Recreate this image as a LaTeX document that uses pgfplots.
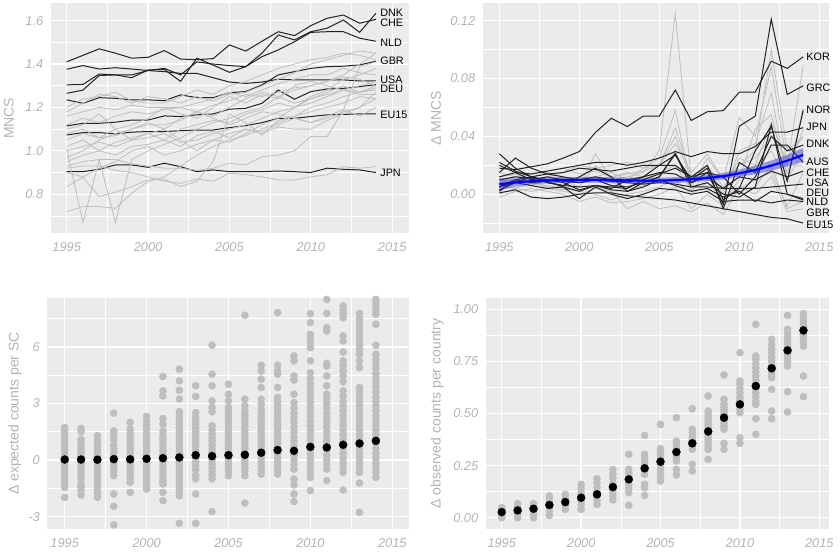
\documentclass[border=0pt]{standalone}
\usepackage{fontspec}
\setmainfont{Liberation Sans}
\usepackage{pgfplots}
\pgfplotsset{compat=1.18}
\definecolor{panelbg}{HTML}{EBEBEB}
\definecolor{tickgray}{HTML}{B3B3B3}
\definecolor{lgray}{HTML}{BEBEBE}
\definecolor{dline}{HTML}{222222}
\definecolor{band}{HTML}{3333CC}
\pgfplotsset{
 gg/.style={
  scale only axis, clip mode=individual,
  axis background/.style={fill=panelbg},
  axis line style={draw=none},
  xmajorgrids, ymajorgrids, xminorgrids, yminorgrids,
  major grid style={white, line width=1.3bp},
  minor grid style={white, line width=0.65bp},
  major tick length=0pt, minor tick length=0pt,
  tick style={draw=none},
  xtick={1995,2000,2005,2010,2015},
  minor xtick={1992.5,1997.5,2002.5,2007.5,2012.5},
  /pgf/number format/assume math mode=true,
  xticklabel style={/pgf/number format/1000 sep={}, yshift=-5.5bp},
  yticklabel style={xshift=-4bp},
  tick label style={font=\fontsize{12.8bp}{14bp}\selectfont\itshape, text=tickgray},
 },
 ylab/.style={every axis y label/.style={at={(rel axis cs:0,0.5)}, xshift=#1, rotate=90, anchor=center, font=\fontsize{14bp}{16bp}\selectfont, text=tickgray}},
 gl/.style={lgray, line width=0.8bp},
 bl/.style={dline, line width=1bp},
}
\tikzset{cl/.style={anchor=west, font=\fontsize{10.8bp}{12bp}\selectfont, text=black, inner sep=0pt}}
\begin{document}
\begin{tikzpicture}[x=1bp,y=1bp]
\useasboundingbox (0,0) rectangle (840,553);
%%%%%%%%%%%%%%%% Panel 1
\begin{axis}[gg, at={(50.7bp,319.7bp)}, anchor=south west, width=358.6bp, height=230bp,
  xmin=1994.02, xmax=2016.05, ymin=0.62, ymax=1.68,
  ytick={0.8,1.0,1.2,1.4,1.6}, minor ytick={0.7,0.9,1.1,1.3,1.5},
  yticklabel style={/pgf/number format/.cd, fixed, fixed zerofill, precision=1},
  ylabel={MNCS}, ylab=-42bp]
% labelled (dark) lines
\addplot[bl] coordinates {(1995,1.41)(1996,1.44)(1997,1.47)(1998,1.45)(1999,1.427)(2000,1.431)(2001,1.462)(2002,1.423)(2003,1.42)(2004,1.425)(2005,1.488)(2006,1.46)(2007,1.505)(2008,1.549)(2009,1.531)(2010,1.577)(2011,1.611)(2012,1.626)(2013,1.588)(2014,1.606)};
\addplot[bl] coordinates {(1995,1.265)(1996,1.28)(1997,1.347)(1998,1.35)(1999,1.337)(2000,1.373)(2001,1.375)(2002,1.32)(2003,1.427)(2004,1.395)(2005,1.362)(2006,1.388)(2007,1.45)(2008,1.534)(2009,1.511)(2010,1.549)(2011,1.565)(2012,1.603)(2013,1.546)(2014,1.634)};
\addplot[bl] coordinates {(1995,1.304)(1996,1.306)(1997,1.354)(1998,1.35)(1999,1.35)(2000,1.37)(2001,1.38)(2002,1.35)(2003,1.41)(2004,1.40)(2005,1.393)(2006,1.388)(2007,1.434)(2008,1.465)(2009,1.503)(2010,1.546)(2011,1.549)(2012,1.549)(2013,1.519)(2014,1.505)};
\addplot[bl] coordinates {(1995,1.235)(1996,1.219)(1997,1.245)(1998,1.242)(1999,1.235)(2000,1.235)(2001,1.231)(2002,1.258)(2003,1.245)(2004,1.245)(2005,1.268)(2006,1.273)(2007,1.304)(2008,1.35)(2009,1.365)(2010,1.38)(2011,1.388)(2012,1.39)(2013,1.396)(2014,1.413)};
\addplot[bl] coordinates {(1995,1.376)(1996,1.393)(1997,1.377)(1998,1.383)(1999,1.377)(2000,1.37)(2001,1.365)(2002,1.357)(2003,1.357)(2004,1.337)(2005,1.317)(2006,1.311)(2007,1.317)(2008,1.33)(2009,1.327)(2010,1.327)(2011,1.327)(2012,1.327)(2013,1.322)(2014,1.322)};
\addplot[bl] coordinates {(1995,1.115)(1996,1.127)(1997,1.127)(1998,1.132)(1999,1.142)(2000,1.142)(2001,1.161)(2002,1.158)(2003,1.166)(2004,1.17)(2005,1.192)(2006,1.196)(2007,1.219)(2008,1.28)(2009,1.238)(2010,1.273)(2011,1.285)(2012,1.288)(2013,1.296)(2014,1.305)};
\addplot[bl] coordinates {(1995,1.073)(1996,1.084)(1997,1.084)(1998,1.078)(1999,1.086)(2000,1.089)(2001,1.089)(2002,1.093)(2003,1.096)(2004,1.096)(2005,1.107)(2006,1.116)(2007,1.13)(2008,1.15)(2009,1.15)(2010,1.158)(2011,1.166)(2012,1.168)(2013,1.17)(2014,1.17)};
\addplot[bl] coordinates {(1995,0.904)(1996,0.904)(1997,0.915)(1998,0.935)(1999,0.935)(2000,0.924)(2001,0.943)(2002,0.927)(2003,0.904)(2004,0.912)(2005,0.904)(2006,0.904)(2007,0.904)(2008,0.907)(2009,0.904)(2010,0.9)(2011,0.92)(2012,0.915)(2013,0.912)(2014,0.9)};
% grey lines
\addplot[gl] coordinates {(1995,0.72)(1996,0.743)(1997,0.743)(1998,0.735)(1999,0.805)(2000,0.858)(2001,0.88)(2002,0.93)(2003,0.98)(2004,1.02)(2005,1.05)(2006,1.07)(2007,1.1)(2008,1.13)(2009,1.16)(2010,1.2)(2011,1.22)(2012,1.25)(2013,1.27)(2014,1.3)};
\addplot[gl] coordinates {(1995,1.01)(1996,0.67)(1997,0.96)(1998,0.67)(1999,0.96)(2000,1.0)(2001,1.03)(2002,1.06)(2003,1.1)(2004,1.13)(2005,1.15)(2006,1.18)(2007,1.2)(2008,1.25)(2009,1.28)(2010,1.3)(2011,1.32)(2012,1.35)(2013,1.4)(2014,1.45)};
\addplot[gl] coordinates {(1995,0.835)(1996,0.878)(1997,0.79)(1998,0.81)(1999,0.835)(2000,0.866)(2001,0.87)(2002,0.835)(2003,0.86)(2004,0.95)(2005,1.17)(2006,1.13)(2007,1.073)(2008,1.14)(2009,1.16)(2010,1.18)(2011,1.2)(2012,1.22)(2013,1.25)(2014,1.24)};
\addplot[gl] coordinates {(1995,0.93)(1996,0.95)(1997,0.96)(1998,0.96)(1999,0.94)(2000,0.93)(2001,0.92)(2002,0.92)(2003,0.91)(2004,0.92)(2005,0.943)(2006,0.935)(2007,0.973)(2008,0.98)(2009,1.0)(2010,1.066)(2011,1.066)(2012,1.188)(2013,1.388)(2014,1.41)};
\addplot[gl] coordinates {(1995,0.92)(1996,0.93)(1997,0.93)(1998,0.91)(1999,0.9)(2000,0.88)(2001,0.86)(2002,0.85)(2003,0.87)(2004,0.86)(2005,0.897)(2006,0.89)(2007,0.88)(2008,0.866)(2009,0.866)(2010,0.88)(2011,0.89)(2012,0.927)(2013,0.92)(2014,0.927)};
\addplot[gl] coordinates {(1995,1.02)(1996,1.05)(1997,1.0)(1998,1.04)(1999,1.06)(2000,1.08)(2001,1.1)(2002,1.05)(2003,1.0)(2004,1.05)(2005,1.04)(2006,1.08)(2007,1.12)(2008,1.15)(2009,1.2)(2010,1.25)(2011,1.28)(2012,1.33)(2013,1.35)(2014,1.38)};
\addplot[gl] coordinates {(1995,1.18)(1996,1.22)(1997,1.26)(1998,1.25)(1999,1.22)(2000,1.25)(2001,1.24)(2002,1.22)(2003,1.25)(2004,1.23)(2005,1.26)(2006,1.27)(2007,1.3)(2008,1.33)(2009,1.36)(2010,1.4)(2011,1.42)(2012,1.44)(2013,1.46)(2014,1.45)};
\addplot[gl] coordinates {(1995,1.2)(1996,1.24)(1997,1.25)(1998,1.27)(1999,1.23)(2000,1.22)(2001,1.22)(2002,1.25)(2003,1.28)(2004,1.26)(2005,1.3)(2006,1.32)(2007,1.35)(2008,1.38)(2009,1.4)(2010,1.42)(2011,1.43)(2012,1.45)(2013,1.44)(2014,1.42)};
\addplot[gl] coordinates {(1995,1.16)(1996,1.18)(1997,1.2)(1998,1.19)(1999,1.21)(2000,1.2)(2001,1.2)(2002,1.2)(2003,1.22)(2004,1.24)(2005,1.27)(2006,1.25)(2007,1.28)(2008,1.31)(2009,1.33)(2010,1.35)(2011,1.35)(2012,1.38)(2013,1.36)(2014,1.35)};
\addplot[gl] coordinates {(1995,1.1)(1996,1.12)(1997,1.17)(1998,1.1)(1999,1.12)(2000,1.15)(2001,1.2)(2002,1.17)(2003,1.15)(2004,1.2)(2005,1.25)(2006,1.22)(2007,1.26)(2008,1.24)(2009,1.3)(2010,1.32)(2011,1.3)(2012,1.28)(2013,1.26)(2014,1.26)};
\addplot[gl] coordinates {(1995,1.05)(1996,1.08)(1997,1.06)(1998,1.07)(1999,1.1)(2000,1.12)(2001,1.12)(2002,1.14)(2003,1.18)(2004,1.16)(2005,1.2)(2006,1.24)(2007,1.27)(2008,1.25)(2009,1.22)(2010,1.24)(2011,1.26)(2012,1.28)(2013,1.27)(2014,1.29)};
\addplot[gl] coordinates {(1995,0.97)(1996,1.0)(1997,1.05)(1998,1.08)(1999,1.1)(2000,1.13)(2001,1.1)(2002,1.15)(2003,1.18)(2004,1.15)(2005,1.12)(2006,1.15)(2007,1.18)(2008,1.17)(2009,1.15)(2010,1.13)(2011,1.15)(2012,1.18)(2013,1.2)(2014,1.24)};
\addplot[gl] coordinates {(1995,1.08)(1996,1.1)(1997,1.06)(1998,1.1)(1999,1.05)(2000,1.06)(2001,1.08)(2002,1.04)(2003,1.05)(2004,1.08)(2005,1.1)(2006,1.12)(2007,1.15)(2008,1.18)(2009,1.2)(2010,1.22)(2011,1.25)(2012,1.28)(2013,1.3)(2014,1.32)};
\addplot[gl] coordinates {(1995,1.0)(1996,1.02)(1997,1.04)(1998,1.02)(1999,1.05)(2000,1.08)(2001,1.05)(2002,1.1)(2003,1.12)(2004,1.14)(2005,1.13)(2006,1.17)(2007,1.19)(2008,1.22)(2009,1.2)(2010,1.24)(2011,1.27)(2012,1.3)(2013,1.27)(2014,1.28)};
\addplot[gl] coordinates {(1995,0.95)(1996,0.98)(1997,1.0)(1998,0.98)(1999,1.02)(2000,1.03)(2001,1.05)(2002,1.02)(2003,1.07)(2004,1.09)(2005,1.06)(2006,1.1)(2007,1.09)(2008,1.12)(2009,1.15)(2010,1.13)(2011,1.16)(2012,1.19)(2013,1.16)(2014,1.2)};
\addplot[gl] coordinates {(1995,1.12)(1996,1.15)(1997,1.13)(1998,1.16)(1999,1.18)(2000,1.17)(2001,1.19)(2002,1.2)(2003,1.18)(2004,1.21)(2005,1.23)(2006,1.26)(2007,1.25)(2008,1.27)(2009,1.29)(2010,1.3)(2011,1.32)(2012,1.34)(2013,1.33)(2014,1.3)};
\addplot[gl] coordinates {(1995,0.9)(1996,0.88)(1997,0.92)(1998,0.95)(1999,1.0)(2000,1.02)(2001,0.98)(2002,1.0)(2003,1.03)(2004,1.05)(2005,1.08)(2006,1.1)(2007,1.08)(2008,1.11)(2009,1.1)(2010,1.1)(2011,1.14)(2012,1.17)(2013,1.2)(2014,1.27)};
\node[cl] at (axis cs:2014.26,1.636) {DNK};
\node[cl] at (axis cs:2014.26,1.592) {CHE};
\node[cl] at (axis cs:2014.26,1.50) {NLD};
\node[cl] at (axis cs:2014.26,1.414) {GBR};
\node[cl] at (axis cs:2014.26,1.327) {USA};
\node[cl] at (axis cs:2014.26,1.284) {DEU};
\node[cl] at (axis cs:2014.26,1.165) {EU15};
\node[cl] at (axis cs:2014.26,0.898) {JPN};
\end{axis}
%%%%%%%%%%%%%%%% Panel 2
\begin{axis}[gg, at={(482.7bp,319.7bp)}, anchor=south west, width=346.6bp, height=230bp,
  xmin=1993.96, xmax=2015.63, ymin=-0.027, ymax=0.132,
  ytick={0,0.04,0.08,0.12}, minor ytick={-0.02,0.02,0.06,0.10},
  yticklabel style={/pgf/number format/.cd, fixed, fixed zerofill, precision=2},
  ylabel={Δ MNCS}, ylab=-46.7bp]
% grey lines
\addplot[gl] coordinates {(1995,0.005)(1996,0.008)(1997,0.01)(1998,0.012)(1999,0.01)(2000,0.005)(2001,0.028)(2002,0.01)(2003,0.012)(2004,0.015)(2005,0.03)(2006,0.125)(2007,0.01)(2008,0.02)(2009,0.005)(2010,0.02)(2011,0.03)(2012,0.1)(2013,0.03)(2014,0.04)};
\addplot[gl] coordinates {(1995,0.008)(1996,0.01)(1997,0.012)(1998,0.015)(1999,0.012)(2000,0.01)(2001,0.012)(2002,0.015)(2003,0.01)(2004,0.018)(2005,0.025)(2006,0.058)(2007,0.005)(2008,0.025)(2009,0.01)(2010,0.053)(2011,0.04)(2012,0.088)(2013,0.02)(2014,0.089)};
\addplot[gl] coordinates {(1995,0.01)(1996,0.012)(1997,0.008)(1998,0.005)(1999,0.003)(2000,0.005)(2001,0.02)(2002,0.012)(2003,0.015)(2004,0.012)(2005,0.02)(2006,0.046)(2007,0.012)(2008,0.018)(2009,-0.005)(2010,0.01)(2011,0.045)(2012,0.055)(2013,0.015)(2014,0.045)};
\addplot[gl] coordinates {(1995,0.003)(1996,0.005)(1997,0.006)(1998,0.004)(1999,0.002)(2000,0.0)(2001,0.004)(2002,0.002)(2003,-0.01)(2004,-0.005)(2005,-0.01)(2006,-0.008)(2007,-0.012)(2008,-0.006)(2009,-0.014)(2010,0.005)(2011,0.0)(2012,0.012)(2013,-0.012)(2014,-0.01)};
\addplot[gl] coordinates {(1995,0.012)(1996,0.014)(1997,0.01)(1998,0.012)(1999,0.015)(2000,0.02)(2001,0.018)(2002,0.02)(2003,0.022)(2004,0.018)(2005,0.02)(2006,0.035)(2007,0.015)(2008,0.028)(2009,0.01)(2010,0.02)(2011,0.025)(2012,0.04)(2013,0.025)(2014,0.04)};
\addplot[gl] coordinates {(1995,0.0)(1996,0.004)(1997,0.008)(1998,0.006)(1999,0.004)(2000,0.002)(2001,0.0)(2002,-0.004)(2003,0.0)(2004,0.002)(2005,0.005)(2006,0.01)(2007,0.0)(2008,0.008)(2009,-0.002)(2010,0.004)(2011,0.01)(2012,0.015)(2013,-0.008)(2014,0.015)};
\addplot[gl] coordinates {(1995,0.006)(1996,0.004)(1997,0.002)(1998,0.004)(1999,0.006)(2000,0.01)(2001,0.012)(2002,0.008)(2003,0.005)(2004,0.01)(2005,0.015)(2006,0.02)(2007,0.003)(2008,0.01)(2009,0.005)(2010,0.012)(2011,0.02)(2012,0.03)(2013,0.01)(2014,0.03)};
\addplot[gl] coordinates {(1995,0.015)(1996,0.012)(1997,0.014)(1998,0.016)(1999,0.018)(2000,0.014)(2001,0.016)(2002,0.012)(2003,0.014)(2004,0.016)(2005,0.02)(2006,0.04)(2007,0.01)(2008,0.02)(2009,0.0)(2010,0.03)(2011,0.035)(2012,0.07)(2013,0.01)(2014,0.06)};
\addplot[gl] coordinates {(1995,-0.002)(1996,0.002)(1997,0.004)(1998,0.002)(1999,0.0)(2000,-0.005)(2001,-0.002)(2002,-0.006)(2003,-0.005)(2004,-0.003)(2005,0.0)(2006,0.005)(2007,-0.01)(2008,0.0)(2009,-0.008)(2010,0.002)(2011,0.005)(2012,0.02)(2013,-0.01)(2014,-0.005)};
\addplot[gl] coordinates {(1995,0.01)(1996,0.008)(1997,0.006)(1998,0.01)(1999,0.012)(2000,0.008)(2001,0.01)(2002,0.006)(2003,0.002)(2004,0.006)(2005,0.012)(2006,0.03)(2007,0.002)(2008,0.015)(2009,0.003)(2010,0.025)(2011,0.02)(2012,0.05)(2013,0.02)(2014,0.02)};
% dark lines
\addplot[bl] coordinates {(1995,0.018)(1996,0.017)(1997,0.019)(1998,0.021)(1999,0.025)(2000,0.0295)(2001,0.0426)(2002,0.0525)(2003,0.0468)(2004,0.054)(2005,0.054)(2006,0.072)(2007,0.051)(2008,0.057)(2009,0.0578)(2010,0.0705)(2011,0.0705)(2012,0.092)(2013,0.087)(2014,0.095)};
\addplot[bl] coordinates {(1995,0.002)(1996,0.01)(1997,0.012)(1998,0.008)(1999,0.006)(2000,0.012)(2001,0.018)(2002,0.012)(2003,0.002)(2004,0.008)(2005,0.012)(2006,0.028)(2007,0.008)(2008,0.015)(2009,-0.007)(2010,0.047)(2011,0.054)(2012,0.121)(2013,0.069)(2014,0.075)};
\addplot[bl] coordinates {(1995,0.022)(1996,0.016)(1997,0.012)(1998,0.01)(1999,0.008)(2000,0.003)(2001,0.006)(2002,0.005)(2003,0.004)(2004,0.01)(2005,0.014)(2006,0.018)(2007,0.012)(2008,0.02)(2009,-0.004)(2010,0.004)(2011,0.03)(2012,0.047)(2013,0.009)(2014,0.058)};
\addplot[bl] coordinates {(1995,0.012)(1996,0.015)(1997,0.014)(1998,0.016)(1999,0.018)(2000,0.02)(2001,0.022)(2002,0.022)(2003,0.02)(2004,0.022)(2005,0.025)(2006,0.0295)(2007,0.026)(2008,0.0295)(2009,0.028)(2010,0.028)(2011,0.033)(2012,0.043)(2013,0.043)(2014,0.046)};
\addplot[bl] coordinates {(1995,0.028)(1996,0.018)(1997,0.012)(1998,0.008)(1999,0.006)(2000,0.005)(2001,0.006)(2002,0.004)(2003,0.01)(2004,0.012)(2005,0.02)(2006,0.027)(2007,0.01)(2008,0.018)(2009,-0.01)(2010,0.022)(2011,0.015)(2012,0.04)(2013,0.03)(2014,0.034)};
\addplot[bl] coordinates {(1995,0.005)(1996,0.008)(1997,0.012)(1998,0.014)(1999,0.015)(2000,0.018)(2001,0.017)(2002,0.016)(2003,0.018)(2004,0.02)(2005,0.02)(2006,0.02)(2007,0.012)(2008,0.015)(2009,0.012)(2010,0.0)(2011,0.012)(2012,0.034)(2013,0.034)(2014,0.022)};
\addplot[bl] coordinates {(1995,0.015)(1996,0.025)(1997,0.018)(1998,0.014)(1999,0.012)(2000,0.01)(2001,0.012)(2002,0.01)(2003,0.008)(2004,0.012)(2005,0.015)(2006,0.014)(2007,0.008)(2008,0.012)(2009,0.004)(2010,0.012)(2011,0.01)(2012,0.016)(2013,0.012)(2014,0.016)};
\addplot[bl] coordinates {(1995,0.01)(1996,0.012)(1997,0.011)(1998,0.01)(1999,0.009)(2000,0.008)(2001,0.01)(2002,0.009)(2003,0.008)(2004,0.007)(2005,0.008)(2006,0.007)(2007,0.005)(2008,0.005)(2009,0.004)(2010,0.004)(2011,0.004)(2012,0.005)(2013,0.006)(2014,0.007)};
\addplot[bl] coordinates {(1995,0.003)(1996,0.008)(1997,0.006)(1998,0.004)(1999,0.005)(2000,0.002)(2001,0.006)(2002,0.003)(2003,0.002)(2004,0.005)(2005,0.01)(2006,0.006)(2007,0.002)(2008,0.004)(2009,-0.002)(2010,0.002)(2011,-0.005)(2012,0.002)(2013,0.0)(2014,-0.003)};
\addplot[bl] coordinates {(1995,0.02)(1996,0.015)(1997,0.01)(1998,0.012)(1999,0.01)(2000,0.008)(2001,0.01)(2002,0.006)(2003,0.005)(2004,0.008)(2005,0.012)(2006,0.028)(2007,0.005)(2008,0.008)(2009,0.0)(2010,-0.002)(2011,0.005)(2012,0.048)(2013,0.0)(2014,-0.004)};
\addplot[bl] coordinates {(1995,0.005)(1996,0.01)(1997,0.008)(1998,0.009)(1999,0.005)(2000,-0.003)(2001,0.005)(2002,0.0)(2003,-0.003)(2004,0.0)(2005,0.004)(2006,0.003)(2007,0.0)(2008,0.002)(2009,-0.005)(2010,-0.004)(2011,-0.004)(2012,-0.006)(2013,-0.004)(2014,-0.005)};
\addplot[bl] coordinates {(1995,0.001)(1996,0.003)(1997,-0.002)(1998,-0.003)(1999,-0.002)(2000,0.0)(2001,0.001)(2002,0.001)(2003,-0.001)(2004,-0.002)(2005,-0.003)(2006,-0.004)(2007,-0.006)(2008,-0.008)(2009,-0.01)(2010,-0.012)(2011,-0.014)(2012,-0.016)(2013,-0.017)(2014,-0.02)};
% smooth with band
\addplot[fill=band, fill opacity=0.45, draw=none] coordinates {(1995,0.0109)(1996,0.011)(1997,0.0112)(1998,0.0115)(1999,0.0118)(2000,0.0119)(2001,0.012)(2002,0.0118)(2003,0.0115)(2004,0.0114)(2005,0.0114)(2006,0.0118)(2007,0.0124)(2008,0.0132)(2009,0.0147)(2010,0.017)(2011,0.0198)(2012,0.0233)(2013,0.0272)(2014,0.032)(2014,0.0224)(2013,0.0192)(2012,0.0163)(2011,0.0138)(2010,0.012)(2009,0.0103)(2008,0.0092)(2007,0.0084)(2006,0.0078)(2005,0.0074)(2004,0.0074)(2003,0.0075)(2002,0.0078)(2001,0.008)(2000,0.0079)(1999,0.0078)(1998,0.0075)(1997,0.0068)(1996,0.0054)(1995,0.0029)};
\addplot[blue, line width=2.2bp, smooth] coordinates {(1995,0.0069)(1996,0.0082)(1997,0.009)(1998,0.0095)(1999,0.0098)(2000,0.0099)(2001,0.01)(2002,0.0098)(2003,0.0095)(2004,0.0094)(2005,0.0094)(2006,0.0098)(2007,0.0104)(2008,0.0112)(2009,0.0125)(2010,0.0145)(2011,0.0168)(2012,0.0198)(2013,0.0232)(2014,0.0272)};
\node[cl] at (axis cs:2014.19,0.0947) {KOR};
\node[cl] at (axis cs:2014.19,0.0739) {GRC};
\node[cl] at (axis cs:2014.19,0.0583) {NOR};
\node[cl] at (axis cs:2014.19,0.0468) {JPN};
\node[cl] at (axis cs:2014.19,0.0348) {DNK};
\node[cl] at (axis cs:2014.19,0.0221) {AUS};
\node[cl] at (axis cs:2014.19,0.0148) {CHE};
\node[cl] at (axis cs:2014.19,0.0077) {USA};
\node[cl] at (axis cs:2014.19,0.0013) {DEU};
\node[cl] at (axis cs:2014.19,-0.0055) {NLD};
\node[cl] at (axis cs:2014.19,-0.0126) {GBR};
\node[cl] at (axis cs:2014.19,-0.021) {EU15};
\end{axis}
%%%%%%%%%%%%%%%% Panel 3
\begin{axis}[gg, at={(47.3bp,23.7bp)}, anchor=south west, width=362bp, height=231.6bp,
  xmin=1993.94, xmax=2016.04, ymin=-3.67, ymax=8.61,
  ytick={-3,0,3,6}, minor ytick={-1.5,1.5,4.5,7.5},
  ylabel={Δ expected counts per SC}, ylab=-32.3bp]
\addplot[only marks, mark=*, mark size=3.6bp, lgray] coordinates {
(1995,-1.98)(1995,-1.45)(1995,-1.25)(1995,-1.05)(1995,-0.85)(1995,-0.65)(1995,-0.45)(1995,-0.25)(1995,-0.05)(1995,0.15)(1995,0.35)(1995,0.55)(1995,0.75)(1995,0.95)(1995,1.15)(1995,1.35)(1995,1.55)(1995,1.73)
(1996,-1.85)(1996,-1.6)(1996,-1.4)(1996,-1.27)(1996,-1.0)(1996,-0.8)(1996,-0.6)(1996,-0.4)(1996,-0.2)(1996,0)(1996,0.2)(1996,0.4)(1996,0.6)(1996,0.8)(1996,1.0)(1996,1.1)(1996,1.5)(1996,1.68)
(1997,-1.97)(1997,-1.75)(1997,-1.55)(1997,-1.35)(1997,-1.15)(1997,-0.95)(1997,-0.75)(1997,-0.55)(1997,-0.35)(1997,-0.15)(1997,0.05)(1997,0.25)(1997,0.45)(1997,0.65)(1997,0.85)(1997,1.05)(1997,1.29)
(1998,-3.44)(1998,-2.45)(1998,-1.8)(1998,-0.83)(1998,-0.6)(1998,-0.4)(1998,-0.2)(1998,0)(1998,0.2)(1998,0.4)(1998,0.6)(1998,0.8)(1998,1.1)(1998,1.3)(1998,1.55)(1998,2.49)
(1999,-1.71)(1999,-1.18)(1999,-1.0)(1999,-0.8)(1999,-0.6)(1999,-0.4)(1999,-0.2)(1999,0)(1999,0.2)(1999,0.4)(1999,0.6)(1999,0.8)(1999,1.0)(1999,1.2)(1999,1.4)(1999,1.64)(1999,2.0)
(2000,-1.54)(2000,-1.35)(2000,-1.15)(2000,-0.95)(2000,-0.75)(2000,-0.55)(2000,-0.35)(2000,-0.15)(2000,0.05)(2000,0.25)(2000,0.45)(2000,0.65)(2000,0.85)(2000,1.05)(2000,1.25)(2000,1.45)(2000,1.65)(2000,1.85)(2000,2.05)(2000,2.31)
(2001,-2.15)(2001,-1.71)(2001,-1.27)(2001,-1.1)(2001,-0.9)(2001,-0.7)(2001,-0.5)(2001,-0.3)(2001,-0.1)(2001,0.1)(2001,0.3)(2001,0.5)(2001,0.7)(2001,0.9)(2001,1.1)(2001,1.3)(2001,1.55)(2001,1.9)(2001,2.2)(2001,3.4)(2001,3.67)(2001,4.43)
(2002,-3.35)(2002,-1.89)(2002,-1.7)(2002,-1.5)(2002,-1.3)(2002,-1.1)(2002,-0.9)(2002,-0.7)(2002,-0.5)(2002,-0.3)(2002,-0.1)(2002,0.1)(2002,0.3)(2002,0.5)(2002,0.7)(2002,0.9)(2002,1.1)(2002,1.3)(2002,1.5)(2002,1.7)(2002,1.9)(2002,2.1)(2002,2.3)(2002,2.56)(2002,3.23)(2002,3.7)(2002,4.2)(2002,4.82)
(2003,-3.35)(2003,-1.8)(2003,-1.0)(2003,-0.8)(2003,-0.5)(2003,-0.3)(2003,-0.1)(2003,0.1)(2003,0.3)(2003,0.5)(2003,0.7)(2003,0.9)(2003,1.1)(2003,1.3)(2003,1.5)(2003,1.7)(2003,1.9)(2003,2.1)(2003,2.3)(2003,2.52)(2003,3.37)(2003,3.94)
(2004,-2.73)(2004,-1.0)(2004,-0.8)(2004,-0.6)(2004,-0.4)(2004,-0.2)(2004,0)(2004,0.2)(2004,0.4)(2004,0.6)(2004,0.8)(2004,1.0)(2004,1.2)(2004,1.4)(2004,1.6)(2004,1.82)(2004,2.56)(2004,2.79)(2004,3.14)(2004,3.94)(2004,4.55)(2004,6.09)
(2005,-0.83)(2005,-0.6)(2005,-0.4)(2005,-0.2)(2005,0)(2005,0.2)(2005,0.4)(2005,0.6)(2005,0.8)(2005,1.0)(2005,1.2)(2005,1.4)(2005,1.6)(2005,1.8)(2005,2.0)(2005,2.2)(2005,2.4)(2005,2.6)(2005,2.79)(2005,3.14)(2005,3.49)(2005,4.02)
(2006,-2.28)(2006,-0.83)(2006,-0.6)(2006,-0.4)(2006,-0.2)(2006,0)(2006,0.2)(2006,0.4)(2006,0.6)(2006,0.8)(2006,1.0)(2006,1.2)(2006,1.4)(2006,1.6)(2006,1.8)(2006,2.0)(2006,2.2)(2006,2.4)(2006,2.6)(2006,2.88)(2006,3.23)(2006,7.68)
(2007,-0.74)(2007,-0.5)(2007,-0.3)(2007,-0.1)(2007,0.1)(2007,0.3)(2007,0.5)(2007,0.7)(2007,0.9)(2007,1.1)(2007,1.3)(2007,1.5)(2007,1.7)(2007,1.9)(2007,2.1)(2007,2.3)(2007,2.5)(2007,2.7)(2007,2.95)(2007,3.23)(2007,3.85)(2007,4.29)(2007,4.73)(2007,5.03)
(2008,-0.74)(2008,-0.5)(2008,-0.3)(2008,-0.1)(2008,0.1)(2008,0.3)(2008,0.5)(2008,0.7)(2008,0.9)(2008,1.1)(2008,1.3)(2008,1.5)(2008,1.7)(2008,1.9)(2008,2.1)(2008,2.3)(2008,2.5)(2008,2.7)(2008,2.9)(2008,3.1)(2008,3.32)(2008,3.85)(2008,4.55)(2008,4.73)(2008,5.03)(2008,7.82)
(2009,-2.2)(2009,-1.8)(2009,-1.32)(2009,-1.0)(2009,-0.48)(2009,-0.25)(2009,0)(2009,0.25)(2009,0.5)(2009,0.75)(2009,1.0)(2009,1.25)(2009,1.5)(2009,1.75)(2009,2.0)(2009,2.25)(2009,2.5)(2009,2.75)(2009,3.05)(2009,3.49)(2009,4.25)(2009,4.46)(2009,5.26)(2009,5.52)
(2010,-1.62)(2010,-0.92)(2010,-0.7)(2010,-0.45)(2010,-0.2)(2010,0.05)(2010,0.3)(2010,0.55)(2010,0.8)(2010,1.05)(2010,1.3)(2010,1.55)(2010,1.8)(2010,2.05)(2010,2.3)(2010,2.55)(2010,2.8)(2010,3.05)(2010,3.3)(2010,3.55)(2010,3.8)(2010,4.05)(2010,4.35)(2010,4.64)(2010,5.26)(2010,5.96)(2010,6.2)(2010,6.45)(2010,6.67)(2010,7.29)(2010,7.76)
(2011,-1.09)(2011,-0.48)(2011,-0.25)(2011,0)(2011,0.25)(2011,0.5)(2011,0.75)(2011,1.0)(2011,1.25)(2011,1.5)(2011,1.75)(2011,2.0)(2011,2.25)(2011,2.5)(2011,2.75)(2011,3.0)(2011,3.25)(2011,3.49)(2011,3.94)(2011,4.46)(2011,4.99)(2011,5.13)(2011,6.85)(2011,7.02)(2011,7.78)(2011,8.52)
(2012,-1.59)(2012,-0.65)(2012,-0.4)(2012,-0.15)(2012,0.1)(2012,0.35)(2012,0.6)(2012,0.85)(2012,1.1)(2012,1.35)(2012,1.6)(2012,1.85)(2012,2.1)(2012,2.35)(2012,2.6)(2012,2.85)(2012,3.1)(2012,3.4)(2012,3.67)(2012,4.15)(2012,4.46)(2012,4.73)(2012,4.99)(2012,5.26)(2012,5.73)(2012,6.32)(2012,6.58)(2012,7.55)(2012,7.75)(2012,7.95)(2012,8.17)
(2013,-2.77)(2013,-1.22)(2013,-0.65)(2013,-0.4)(2013,-0.15)(2013,0.1)(2013,0.35)(2013,0.6)(2013,0.85)(2013,1.1)(2013,1.35)(2013,1.6)(2013,1.85)(2013,2.1)(2013,2.35)(2013,2.6)(2013,2.85)(2013,3.1)(2013,3.35)(2013,3.6)(2013,3.85)(2013,4.9)(2013,5.26)(2013,5.61)(2013,5.85)(2013,6.1)(2013,6.3)(2013,6.55)(2013,6.76)(2013,7.02)(2013,7.25)(2013,7.5)(2013,7.78)
(2014,-0.92)(2014,-0.65)(2014,-0.4)(2014,-0.15)(2014,0.1)(2014,0.35)(2014,0.6)(2014,0.85)(2014,1.1)(2014,1.35)(2014,1.6)(2014,1.85)(2014,2.1)(2014,2.35)(2014,2.6)(2014,2.85)(2014,3.1)(2014,3.35)(2014,3.6)(2014,3.85)(2014,4.1)(2014,4.35)(2014,4.6)(2014,4.85)(2014,5.1)(2014,5.35)(2014,5.61)(2014,6.09)(2014,7.2)(2014,7.73)(2014,7.95)(2014,8.15)(2014,8.35)(2014,8.52)(2014,8.7)
};
\addplot[only marks, mark=*, mark size=4bp, black] coordinates {(1995,0.03)(1996,0.03)(1997,0.02)(1998,0.05)(1999,0.04)(2000,0.07)(2001,0.1)(2002,0.14)(2003,0.26)(2004,0.21)(2005,0.26)(2006,0.28)(2007,0.39)(2008,0.53)(2009,0.49)(2010,0.7)(2011,0.67)(2012,0.81)(2013,0.88)(2014,1.02)};
\end{axis}
%%%%%%%%%%%%%%%% Panel 4
\begin{axis}[gg, at={(485.7bp,23.7bp)}, anchor=south west, width=343.6bp, height=231.6bp,
  xmin=1993.99, xmax=2015.63, ymin=-0.0557, ymax=1.056,
  ytick={0,0.25,0.5,0.75,1}, minor ytick={0.125,0.375,0.625,0.875},
  yticklabel style={/pgf/number format/.cd, fixed, fixed zerofill, precision=2},
  ylabel={Δ observed counts per country}, ylab=-48.7bp]
\addplot[only marks, mark=*, mark size=3.6bp, lgray] coordinates {
(1995,0.0)(1995,0.012)(1995,0.024)(1995,0.036)(1995,0.048)
(1996,0.0)(1996,0.017)(1996,0.034)(1996,0.05)(1996,0.067)
(1997,0.0)(1997,0.017)(1997,0.034)(1997,0.05)(1997,0.067)
(1998,0.011)(1998,0.03)(1998,0.05)(1998,0.07)(1998,0.085)(1998,0.104)
(1999,0.04)(1999,0.058)(1999,0.076)(1999,0.094)(1999,0.112)
(2000,0.04)(2000,0.06)(2000,0.08)(2000,0.1)(2000,0.12)(2000,0.14)(2000,0.16)
(2001,0.064)(2001,0.084)(2001,0.104)(2001,0.124)(2001,0.144)(2001,0.164)(2001,0.187)
(2002,0.085)(2002,0.105)(2002,0.125)(2002,0.145)(2002,0.165)(2002,0.19)(2002,0.21)(2002,0.232)
(2003,0.059)(2003,0.12)(2003,0.14)(2003,0.16)(2003,0.18)(2003,0.2)(2003,0.215)(2003,0.232)(2003,0.304)
(2004,0.107)(2004,0.144)(2004,0.16)(2004,0.208)(2004,0.225)(2004,0.245)(2004,0.265)(2004,0.285)(2004,0.304)(2004,0.395)
(2005,0.176)(2005,0.196)(2005,0.216)(2005,0.236)(2005,0.256)(2005,0.276)(2005,0.296)(2005,0.314)(2005,0.331)(2005,0.448)
(2006,0.205)(2006,0.232)(2006,0.272)(2006,0.29)(2006,0.31)(2006,0.33)(2006,0.35)(2006,0.368)(2006,0.48)
(2007,0.224)(2007,0.256)(2007,0.328)(2007,0.345)(2007,0.36)(2007,0.375)(2007,0.39)(2007,0.408)(2007,0.424)(2007,0.523)
(2008,0.28)(2008,0.328)(2008,0.345)(2008,0.36)(2008,0.375)(2008,0.39)(2008,0.405)(2008,0.42)(2008,0.435)(2008,0.45)(2008,0.465)(2008,0.48)(2008,0.496)(2008,0.512)(2008,0.584)
(2009,0.328)(2009,0.357)(2009,0.424)(2009,0.44)(2009,0.455)(2009,0.47)(2009,0.485)(2009,0.5)(2009,0.515)(2009,0.53)(2009,0.545)(2009,0.568)(2009,0.685)
(2010,0.357)(2010,0.384)(2010,0.504)(2010,0.52)(2010,0.535)(2010,0.55)(2010,0.565)(2010,0.58)(2010,0.6)(2010,0.62)(2010,0.64)(2010,0.656)(2010,0.792)
(2011,0.4)(2011,0.475)(2011,0.544)(2011,0.56)(2011,0.58)(2011,0.6)(2011,0.62)(2011,0.64)(2011,0.66)(2011,0.68)(2011,0.7)(2011,0.72)(2011,0.74)(2011,0.76)(2011,0.776)(2011,0.928)
(2012,0.475)(2012,0.512)(2012,0.616)(2012,0.672)(2012,0.69)(2012,0.71)(2012,0.73)(2012,0.75)(2012,0.77)(2012,0.79)(2012,0.81)(2012,0.83)(2012,0.856)
(2013,0.507)(2013,0.605)(2013,0.728)(2013,0.745)(2013,0.765)(2013,0.785)(2013,0.805)(2013,0.825)(2013,0.845)(2013,0.865)(2013,0.885)(2013,0.904)(2013,0.971)
(2014,0.581)(2014,0.68)(2014,0.824)(2014,0.84)(2014,0.86)(2014,0.88)(2014,0.9)(2014,0.92)(2014,0.94)(2014,0.96)(2014,0.98)
};
\addplot[only marks, mark=*, mark size=4bp, black] coordinates {(1995,0.027)(1996,0.035)(1997,0.043)(1998,0.061)(1999,0.075)(2000,0.096)(2001,0.112)(2002,0.147)(2003,0.184)(2004,0.237)(2005,0.269)(2006,0.315)(2007,0.357)(2008,0.414)(2009,0.48)(2010,0.544)(2011,0.632)(2012,0.717)(2013,0.803)(2014,0.899)};
\end{axis}
\end{tikzpicture}
\end{document}
